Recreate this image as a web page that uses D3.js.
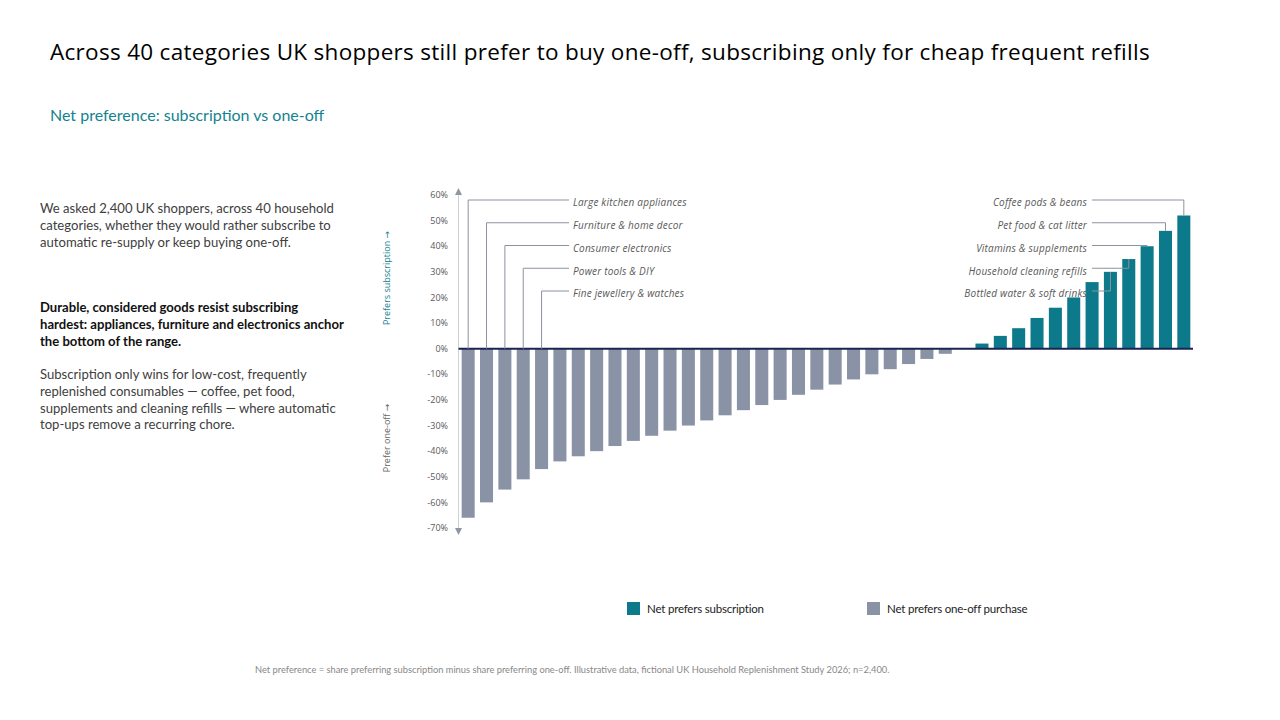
<!DOCTYPE html>
<meta charset="utf-8">
<style>
    body { margin: 0; background: #fff; }
    svg { display: block; }
    .title { font: 22.5px "Open Sans", sans-serif; fill: #000; letter-spacing: 0.3px; }
    .subtitle { font: 16px Lato, sans-serif; fill: #13838f; }
    .body-text { font: 13.1px Lato, sans-serif; fill: #404040; }
    .body-bold { font: bold 13.1px Lato, sans-serif; fill: #111; }
    .tick-label { font: 9px "Open Sans", sans-serif; fill: #595959; }
    .ann { font: italic 10px "Open Sans", sans-serif; fill: #595959; letter-spacing: 0.2px; }
    .leader { fill: none; stroke: #8c929e; stroke-width: 1px; }
    .legend text { font: 11.5px Lato, sans-serif; fill: #222; letter-spacing: -0.2px; }
    .footer { font: 9.3px Lato, sans-serif; fill: #888; }
    .arrow { font-family: "DejaVu Sans", sans-serif; }
</style>

<body>
    <script src="https://d3js.org/d3.v7.min.js"></script>
    <script>
        // categories, sorted from most "one-off" to most "subscription"
        var categories = [
            "Large kitchen appliances", "Furniture & home decor", "Consumer electronics",
            "Power tools & DIY", "Fine jewellery & watches", "Mattresses & bedding",
            "Garden furniture", "Bicycles", "Small kitchen appliances", "Cookware",
            "Clothing", "Footwear", "Toys & games", "Books", "Sports equipment",
            "Home fragrance", "Stationery", "Cosmetics", "Skincare", "Haircare",
            "Batteries", "Light bulbs", "Printer ink", "Snacks", "Fresh produce",
            "Baby wipes", "Contact lenses", "Razors & blades", "Toilet paper",
            "Laundry detergent", "Dishwasher tablets", "Nappies", "Oral care",
            "Feminine hygiene", "Bin bags", "Bottled water & soft drinks",
            "Household cleaning refills", "Vitamins & supplements",
            "Pet food & cat litter", "Coffee pods & beans"
        ];
        // net preference (subscription share minus one-off share), %
        var netPref = [
            -66, -60, -55, -51, -47, -44, -42, -40, -38, -36,
            -34, -32, -30, -28, -26, -24, -22, -20, -18, -16,
            -14, -12, -10, -8, -6, -4, -2, 0, 2, 5,
            8, 12, 16, 20, 26, 30, 35, 40, 46, 52
        ];
        var yTicks = [60, 50, 40, 30, 20, 10, 0, -10, -20, -30, -40, -50, -60, -70];

        // callouts
        var leftLabels = ["Large kitchen appliances", "Furniture & home decor", "Consumer electronics",
            "Power tools & DIY", "Fine jewellery & watches"];
        var rightLabels = ["Coffee pods & beans", "Pet food & cat litter", "Vitamins & supplements",
            "Household cleaning refills", "Bottled water & soft drinks"];

        var seriesNames = ["Net prefers subscription", "Net prefers one-off purchase"];
        var colSub = "#0c7a8b", colOne = "#8a93a6";

        var W = 1280, H = 720;
        var svg = d3.select("body").append("svg")
            .attr("width", W).attr("height", H);

        // header
        svg.append("text").attr("class", "title").attr("x", 50).attr("y", 60)
            .text("Across 40 categories UK shoppers still prefer to buy one-off, subscribing only for cheap frequent refills");
        svg.append("text").attr("class", "subtitle").attr("x", 50).attr("y", 121)
            .text("Net preference: subscription vs one-off");

        // side commentary
        var para1 = ["We asked 2,400 UK shoppers, across 40 household",
            "categories, whether they would rather subscribe to",
            "automatic re-supply or keep buying one-off."];
        var para2 = ["Durable, considered goods resist subscribing",
            "hardest: appliances, furniture and electronics anchor",
            "the bottom of the range."];
        var para3 = ["Subscription only wins for low-cost, frequently",
            "replenished consumables \u2014 coffee, pet food,",
            "supplements and cleaning refills \u2014 where automatic",
            "top-ups remove a recurring chore."];
        function para(lines, y0, cls) {
            svg.append("g").selectAll("text").data(lines).enter().append("text")
                .attr("class", cls).attr("x", 40)
                .attr("y", function(d, i) { return y0 + i * 16.8; })
                .text(function(d) { return d; });
        }
        para(para1, 213, "body-text");
        para(para2, 312, "body-bold");
        para(para3, 379, "body-text");

        // scales
        var x = d3.scaleBand()
            .domain(categories)
            .range([459, 1193])
            .paddingInner(0.29)
            .paddingOuter(0.145);
        var y = d3.scaleLinear()
            .domain([-70, 60])
            .range([528, 195]);

        // axis line + arrows
        var axisX = 458.5;
        svg.append("line")
            .attr("x1", axisX).attr("x2", axisX)
            .attr("y1", y(60) - 4).attr("y2", y(-70) + 4)
            .attr("stroke", "#cdd1d8").attr("stroke-width", 1);
        svg.append("path")
            .attr("d", "M" + axisX + "," + (y(60) - 7) + "l-3.5,7h7z")
            .attr("fill", "#8f96a3");
        svg.append("path")
            .attr("d", "M" + axisX + "," + (y(-70) + 7) + "l-3.5,-7h7z")
            .attr("fill", "#8f96a3");

        svg.append("g").selectAll("text").data(yTicks).enter().append("text")
            .attr("class", "tick-label")
            .attr("x", 448).attr("y", function(d) { return y(d); })
            .attr("dy", "0.35em")
            .attr("text-anchor", "end")
            .text(function(d) { return d + "%"; });

        // axis titles
        function axisTitle(label, cy, col) {
            var t = svg.append("text")
                .attr("transform", "translate(390," + cy + ") rotate(-90)")
                .attr("text-anchor", "middle")
                .style("font", "9px 'Open Sans', sans-serif")
                .style("fill", col);
            t.append("tspan").text(label + " ");
            t.append("tspan").attr("class", "arrow").text("\u2192");
        }
        axisTitle("Prefers subscription", 278, "#13838f");
        axisTitle("Prefer one-off", 438, "#666");

        // bars
        var data = categories.map(function(c, i) { return { name: c, value: netPref[i] }; });
        svg.append("g").selectAll("rect").data(data.filter(function(d) { return d.value !== 0; }))
            .enter().append("rect")
            .attr("x", function(d) { return x(d.name); })
            .attr("width", x.bandwidth())
            .attr("y", function(d) { return y(Math.max(0, d.value)); })
            .attr("height", function(d) { return Math.abs(y(d.value) - y(0)); })
            .attr("fill", function(d) { return d.value > 0 ? colSub : colOne; });

        // zero line
        svg.append("line")
            .attr("x1", axisX).attr("x2", 1193)
            .attr("y1", y(0)).attr("y2", y(0))
            .attr("stroke", "#1b2450").attr("stroke-width", 2);

        // callouts
        var annY0 = 200, annStep = 22.75;
        function byName(n) { return data.find(function(d) { return d.name === n; }); }
        var ann = svg.append("g");
        leftLabels.forEach(function(n, i) {
            var d = byName(n), cx = x(n) + x.bandwidth() / 2, ly = annY0 + i * annStep;
            ann.append("path").attr("class", "leader")
                .attr("d", "M" + cx + "," + y(Math.max(0, d.value)) + "V" + ly + "H569");
            ann.append("text").attr("class", "ann").attr("x", 573).attr("y", ly + 2.5)
                .attr("dy", "0.38em").text(n);
        });
        rightLabels.forEach(function(n, i) {
            var d = byName(n), cx = x(n) + x.bandwidth() / 2, ly = annY0 + i * annStep;
            ann.append("path").attr("class", "leader")
                .attr("d", "M1092," + ly + "H" + cx + "V" + y(Math.max(0, d.value)));
            ann.append("text").attr("class", "ann").attr("x", 1087).attr("y", ly + 2.5)
                .attr("dy", "0.38em").attr("text-anchor", "end").text(n);
        });

        // legend
        var legend = svg.append("g").attr("class", "legend");
        var lx = [627, 867], lc = [colSub, colOne];
        seriesNames.forEach(function(s, i) {
            legend.append("rect").attr("x", lx[i]).attr("y", 602)
                .attr("width", 13).attr("height", 13).attr("fill", lc[i]);
            legend.append("text").attr("x", lx[i] + 20).attr("y", 608.5)
                .attr("dy", "0.35em").text(s);
        });

        // footnote
        svg.append("text").attr("class", "footer").attr("x", 255).attr("y", 673)
            .text("Net preference = share preferring subscription minus share preferring one-off. Illustrative data, fictional UK Household Replenishment Study 2026; n=2,400.");
    </script>
</body>
